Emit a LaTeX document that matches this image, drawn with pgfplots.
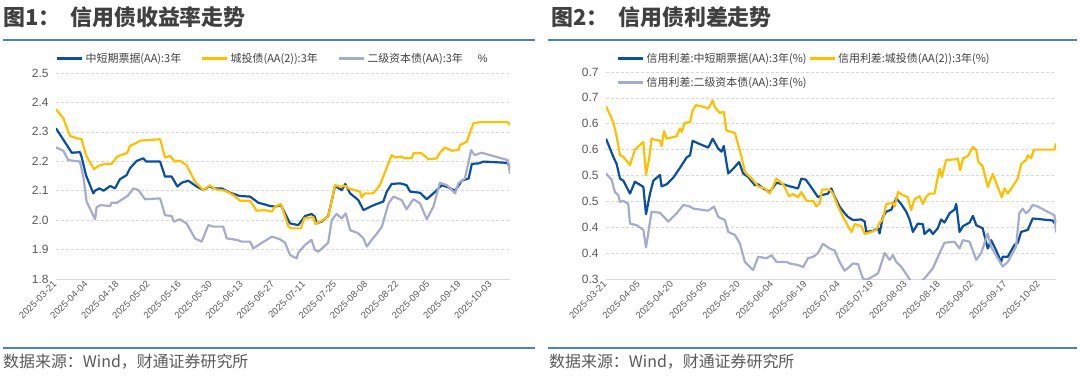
\documentclass[border=0pt]{standalone}
\usepackage{fontspec}
\setmainfont{Liberation Sans}
\newfontfamily\cjk{Noto Sans CJK SC}
\usepackage{pgfplots}
\pgfplotsset{compat=1.18}
\definecolor{cblue}{HTML}{0B4EA2}
\definecolor{cyel}{HTML}{FFC000}
\definecolor{cgray}{HTML}{A5ACCE}
\definecolor{tgray}{HTML}{404040}
\definecolor{lgray}{HTML}{595959}
\definecolor{lineblue}{HTML}{4F81BD}
\definecolor{gridc}{HTML}{D9D9D9}
\pgfplotsset{
  mystyle/.style={
    scale only axis,
    axis x line=bottom, axis y line=left,
    x axis line style={draw=gridc,-, line width=1bp},
    y axis line style={draw=none},
    major tick length=0pt,
    ymajorgrids,
    grid style={gridc, dash pattern=on 3bp off 2bp, line width=0.6bp},
    yticklabel style={font=\fontsize{12}{12}\selectfont, text=lgray, xshift=-4bp},
    xticklabel style={font=\fontsize{9.5}{9.5}\selectfont, text=lgray, rotate=45, anchor=east, yshift=-2bp},
    clip mode=individual,
    legend cell align=left,
    legend image code/.code={\draw[##1, line width=2.5bp] (0bp,0bp) -- (25bp,0bp);},
    every axis plot/.append style={line width=2.2bp, line join=round},
  }
}
\begin{document}
\begin{tikzpicture}[x=1bp,y=1bp]
\useasboundingbox (0,0) rectangle (1080,376);
% titles and rules
\node[anchor=west, inner sep=0, text=tgray, font=\cjk\fontsize{22}{22}\selectfont\bfseries] at (3,359) {图1：\hspace{10bp}信用债收益率走势};
\node[anchor=west, inner sep=0, text=tgray, font=\cjk\fontsize{22}{22}\selectfont\bfseries] at (551,359) {图2：\hspace{10bp}信用债利差走势};
\draw[lineblue, line width=1.6bp] (3,336) -- (535,336);
\draw[lineblue, line width=1.6bp] (548,336) -- (1077,336);
\draw[lineblue, line width=1.6bp] (3,28) -- (535,28);
\draw[lineblue, line width=1.6bp] (548,28) -- (1077,28);
\node[anchor=west, inner sep=0, text=lgray, font=\cjk\fontsize{16}{16}\selectfont] at (3,14) {数据来源：Wind，财通证券研究所};
\node[anchor=west, inner sep=0, text=lgray, font=\cjk\fontsize{16}{16}\selectfont] at (549,14) {数据来源：Wind，财通证券研究所};

% ---------- left chart ----------
\begin{axis}[mystyle,
  at={(56bp,97bp)}, anchor=south west,
  width=454bp, height=206bp,
  xmin=0, xmax=204.5, ymin=1.8, ymax=2.5,
  ytick={1.8,1.9,2.0,2.1,2.2,2.3,2.4,2.5},
  yticklabels={1.8,1.9,2.0,2.1,2.2,2.3,2.4,2.5},
  xtick={0,14,28,42,56,70,84,98,112,126,140,154,168,182,196},
  xticklabels={2025-03-21,2025-04-04,2025-04-18,2025-05-02,2025-05-16,2025-05-30,2025-06-13,2025-06-27,2025-07-11,2025-07-25,2025-08-08,2025-08-22,2025-09-05,2025-09-19,2025-10-03},
  legend columns=3,
  legend style={at={(0,1)}, anchor=south west, yshift=7bp, draw=none, fill=none,
    inner xsep=0pt, inner ysep=0pt,
    font=\cjk\fontsize{11}{11}\selectfont, text=tgray,
    /tikz/every even column/.append style={column sep=18bp}},
]
\addplot[cblue] coordinates {(0,2.312)(7.1,2.229)(10.8,2.231)(11.5,2.216)(13.5,2.153)(16.8,2.091)(17.6,2.100)(19.5,2.108)(21.4,2.100)(24.4,2.116)(26.6,2.108)(28.8,2.139)(31.8,2.153)(33.3,2.176)(36.3,2.201)(39.3,2.210)(40.6,2.199)(46.9,2.199)(49.1,2.148)(52.1,2.148)(54.7,2.114)(56.6,2.127)(59.6,2.134)(63.4,2.114)(66.4,2.102)(69.3,2.116)(70.9,2.108)(74.7,2.108)(78.4,2.093)(82.9,2.082)(87.4,2.080)(91.2,2.059)(94.2,2.053)(96.4,2.048)(98.7,2.046)(101.3,2.051)(105.4,1.989)(109.1,1.983)(112.2,2.014)(115.1,2.021)(116.6,2.012)(117.4,1.989)(119.6,1.995)(122.6,2.014)(125.7,2.116)(128.7,2.102)(130.3,2.123)(132.5,2.091)(136.2,2.068)(138.5,2.034)(142.2,2.048)(145.2,2.057)(147.4,2.063)(149.0,2.097)(151.2,2.123)(155.0,2.125)(157.9,2.119)(159.5,2.097)(164.0,2.093)(167.0,2.071)(170.0,2.091)(173.8,2.119)(176.8,2.111)(179.8,2.100)(182.8,2.134)(185.9,2.142)(187.3,2.191)(190.4,2.193)(192.6,2.199)(202.5,2.195)(203.5,2.193)(204.5,2.180)};
\addlegendentry{中短期票据(AA):3年}
\addplot[cyel] coordinates {(0,2.377)(3.3,2.346)(6.3,2.286)(9.3,2.278)(11.5,2.276)(13.5,2.221)(17.1,2.173)(19.0,2.184)(22.0,2.191)(25.0,2.191)(27.6,2.216)(32.2,2.229)(33.3,2.252)(36.3,2.263)(37.9,2.270)(46.9,2.275)(49.1,2.213)(51.4,2.218)(53.6,2.199)(55.8,2.202)(58.8,2.187)(62.6,2.131)(66.4,2.102)(69.3,2.119)(71.7,2.105)(76.1,2.100)(79.9,2.085)(82.9,2.066)(87.4,2.066)(90.4,2.032)(94.2,2.034)(97.2,2.029)(98.7,2.046)(101.3,2.055)(104.7,1.978)(106.1,1.972)(110.3,1.972)(111.8,2.006)(115.9,2.010)(116.9,1.987)(119.6,1.998)(122.6,2.012)(125.7,2.119)(127.9,2.114)(130.9,2.116)(131.7,2.108)(136.9,2.097)(137.7,2.077)(139.1,2.091)(142.9,2.091)(145.9,2.119)(151.2,2.221)(152.7,2.213)(155.6,2.216)(157.2,2.210)(160.2,2.210)(161.0,2.227)(164.7,2.227)(167.7,2.207)(171.5,2.210)(172.9,2.229)(175.2,2.247)(178.2,2.236)(181.2,2.238)(182.0,2.255)(185.0,2.267)(188.0,2.329)(191.0,2.333)(203.5,2.333)(204.5,2.323)};
\addlegendentry{城投债(AA(2)):3年}
\addplot[cgray] coordinates {(0,2.247)(3.3,2.236)(5.5,2.204)(10.8,2.199)(12.3,2.148)(13.8,2.063)(17.6,2.003)(18.3,2.044)(20.1,2.051)(24.4,2.048)(25.0,2.059)(27.4,2.059)(32.2,2.082)(34.9,2.108)(37.1,2.102)(40.1,2.071)(46.9,2.074)(49.1,2.017)(52.1,2.014)(53.1,1.995)(55.8,2.003)(58.8,1.989)(62.6,1.938)(65.6,1.927)(68.6,1.983)(70.9,1.978)(75.3,1.978)(76.9,1.938)(81.4,1.933)(83.6,1.927)(87.4,1.927)(88.9,1.904)(91.9,1.919)(94.9,1.933)(97.2,1.944)(100.9,1.935)(103.2,1.923)(105.4,1.882)(108.4,1.870)(109.1,1.889)(112.2,1.916)(115.1,1.933)(116.6,1.899)(118.2,1.893)(122.6,1.923)(124.2,2.000)(126.4,2.021)(128.7,2.006)(130.5,2.023)(132.5,1.966)(136.2,1.955)(138.5,1.938)(140.0,1.910)(142.2,1.933)(144.4,1.953)(146.8,1.978)(149.8,2.057)(152.0,2.080)(155.7,2.068)(157.9,2.037)(161.0,2.071)(164.0,2.057)(167.0,2.003)(170.0,2.046)(172.9,2.127)(176.0,2.119)(179.8,2.091)(181.2,2.125)(184.2,2.142)(187.0,2.238)(188.5,2.221)(191.7,2.229)(203.5,2.204)(204.5,2.157)};
\addlegendentry{二级资本债(AA):3年}
\node[anchor=south, inner sep=0, text=tgray, font=\fontsize{11}{11}\selectfont] at (rel axis cs:0.94,1.05) {\%};
\end{axis}

% ---------- right chart ----------
\begin{axis}[mystyle,
  at={(606bp,97bp)}, anchor=south west,
  width=450bp, height=207bp,
  xmin=0, xmax=202.5, ymin=0.3, ymax=0.7,
  ytick={0.3,0.35,0.4,0.45,0.5,0.55,0.6,0.65,0.7},
  yticklabels={0.3,0.4,0.4,0.5,0.5,0.6,0.6,0.7,0.7},
  xtick={0,15,30,45,60,75,90,105,120,135,150,165,180,195},
  xticklabels={2025-03-21,2025-04-05,2025-04-20,2025-05-05,2025-05-20,2025-06-04,2025-06-19,2025-07-04,2025-07-19,2025-08-03,2025-08-18,2025-09-02,2025-09-17,2025-10-02},
  legend columns=2,
  legend style={at={(0.0244,1)}, anchor=north west, yshift=21bp, draw=none, fill=none,
    inner xsep=0pt, inner ysep=0pt,
    font=\cjk\fontsize{11}{11}\selectfont, text=tgray,
    /tikz/every even column/.append style={column sep=0bp},
    row sep=9bp},
]
\addplot[cblue] coordinates {(0,0.571)(3.3,0.536)(4.8,0.522)(6.3,0.494)(7.8,0.490)(10.8,0.465)(13.0,0.488)(16.8,0.478)(18.0,0.425)(19.8,0.465)(21.3,0.490)(24.3,0.501)(25.0,0.479)(27.3,0.483)(30.3,0.496)(33.3,0.515)(36.3,0.535)(37.8,0.539)(39.0,0.567)(41.5,0.562)(46.0,0.554)(48.0,0.571)(50.5,0.552)(52.0,0.546)(53.0,0.557)(55.0,0.504)(57.2,0.513)(59.9,0.526)(61.7,0.504)(64.0,0.497)(67.0,0.481)(68.5,0.483)(70.7,0.475)(73.7,0.468)(76.7,0.486)(79.7,0.483)(82.7,0.479)(86.4,0.475)(87.9,0.494)(89.9,0.492)(92.4,0.477)(95.4,0.458)(96.9,0.462)(99.9,0.465)(101.4,0.475)(102.9,0.459)(105.1,0.440)(107.4,0.427)(108.9,0.420)(111.1,0.414)(114.9,0.415)(116.4,0.411)(117.1,0.391)(120.1,0.393)(122.4,0.398)(123.1,0.388)(124.6,0.420)(126.1,0.430)(128.4,0.434)(130.6,0.456)(132.8,0.445)(135.1,0.430)(136.6,0.415)(138.1,0.391)(140.3,0.407)(142.6,0.406)(143.3,0.387)(145.6,0.396)(147.1,0.387)(149.3,0.398)(150.8,0.415)(152.3,0.409)(154.6,0.427)(156.8,0.434)(157.6,0.445)(159.1,0.391)(160.6,0.402)(163.6,0.409)(165.1,0.422)(166.6,0.404)(169.5,0.398)(171.0,0.372)(171.8,0.359)(173.3,0.375)(175.5,0.356)(177.8,0.333)(178.5,0.343)(180.8,0.343)(183.8,0.366)(185.3,0.370)(186.8,0.391)(189.8,0.395)(192.0,0.417)(201.0,0.413)(201.8,0.408)(202.5,0.415)};
\addlegendentry{信用利差:中短期票据(AA):3年(\%)}
\addplot[cyel] coordinates {(0,0.634)(3.3,0.603)(4.8,0.575)(6.3,0.539)(7.8,0.536)(10.8,0.520)(13.0,0.550)(16.8,0.565)(18.0,0.501)(19.5,0.536)(20.5,0.571)(24.3,0.567)(25.0,0.557)(26.1,0.586)(27.3,0.571)(31.8,0.576)(33.3,0.591)(34.0,0.584)(35.5,0.602)(37.8,0.603)(39.0,0.626)(40.5,0.636)(44.5,0.632)(46.0,0.629)(48.0,0.645)(49.0,0.632)(51.2,0.621)(53.0,0.623)(54.2,0.587)(58.0,0.582)(61.0,0.536)(62.5,0.507)(66.2,0.491)(68.5,0.479)(71.5,0.475)(73.7,0.465)(76.7,0.494)(79.7,0.483)(82.4,0.460)(84.2,0.464)(86.4,0.458)(87.9,0.468)(90.2,0.451)(93.2,0.451)(94.7,0.440)(96.2,0.447)(97.2,0.473)(100.6,0.473)(102.1,0.465)(104.4,0.440)(107.4,0.414)(110.4,0.391)(111.9,0.406)(114.9,0.402)(116.4,0.387)(119.4,0.391)(121.6,0.395)(123.1,0.409)(124.6,0.415)(126.1,0.445)(129.1,0.447)(129.9,0.440)(131.4,0.468)(133.6,0.462)(135.8,0.458)(137.3,0.433)(138.8,0.454)(141.1,0.460)(142.6,0.445)(144.1,0.459)(145.6,0.465)(147.8,0.465)(150.1,0.513)(151.1,0.497)(153.1,0.530)(156.8,0.531)(158.3,0.533)(159.4,0.510)(160.6,0.533)(162.8,0.537)(165.1,0.555)(166.6,0.549)(167.6,0.526)(169.5,0.518)(171.8,0.478)(174.0,0.503)(177.0,0.470)(178.1,0.458)(179.3,0.475)(180.8,0.465)(185.3,0.494)(186.8,0.522)(189.0,0.530)(189.8,0.539)(191.3,0.533)(192.5,0.550)(201.8,0.550)(202.5,0.562)};
\addlegendentry{信用利差:城投债(AA(2)):3年(\%)}
\addplot[cgray] coordinates {(0,0.504)(2.5,0.492)(4.0,0.468)(5.5,0.462)(6.3,0.449)(7.8,0.451)(10.0,0.445)(10.8,0.407)(13.8,0.404)(16.8,0.395)(18.0,0.361)(20.5,0.430)(24.3,0.428)(28.0,0.411)(31.8,0.427)(34.8,0.443)(37.8,0.440)(39.3,0.436)(46.0,0.432)(48.6,0.440)(50.5,0.420)(53.5,0.414)(55.0,0.391)(58.0,0.385)(60.2,0.369)(62.5,0.333)(66.2,0.317)(68.5,0.343)(72.2,0.340)(74.5,0.346)(76.7,0.333)(81.2,0.333)(82.7,0.330)(86.4,0.327)(88.7,0.323)(90.9,0.340)(93.2,0.343)(95.4,0.350)(97.6,0.368)(100.6,0.359)(102.9,0.355)(105.1,0.333)(107.4,0.316)(108.9,0.321)(111.1,0.330)(113.4,0.329)(115.6,0.301)(117.1,0.298)(120.1,0.305)(122.4,0.311)(125.4,0.350)(127.6,0.337)(129.1,0.346)(130.6,0.333)(132.8,0.324)(135.8,0.305)(137.3,0.295)(141.8,0.295)(144.1,0.305)(147.1,0.321)(150.1,0.350)(152.3,0.370)(156.8,0.372)(159.1,0.359)(160.6,0.375)(163.6,0.372)(166.6,0.337)(168.8,0.350)(171.0,0.378)(171.8,0.388)(173.3,0.362)(175.5,0.346)(178.5,0.324)(180.8,0.333)(184.5,0.362)(186.0,0.427)(187.5,0.436)(189.0,0.427)(190.5,0.433)(192.0,0.443)(194.3,0.440)(201.8,0.423)(202.5,0.390)};
\addlegendentry{信用利差:二级资本债(AA):3年(\%)}
\end{axis}
\end{tikzpicture}
\end{document}
